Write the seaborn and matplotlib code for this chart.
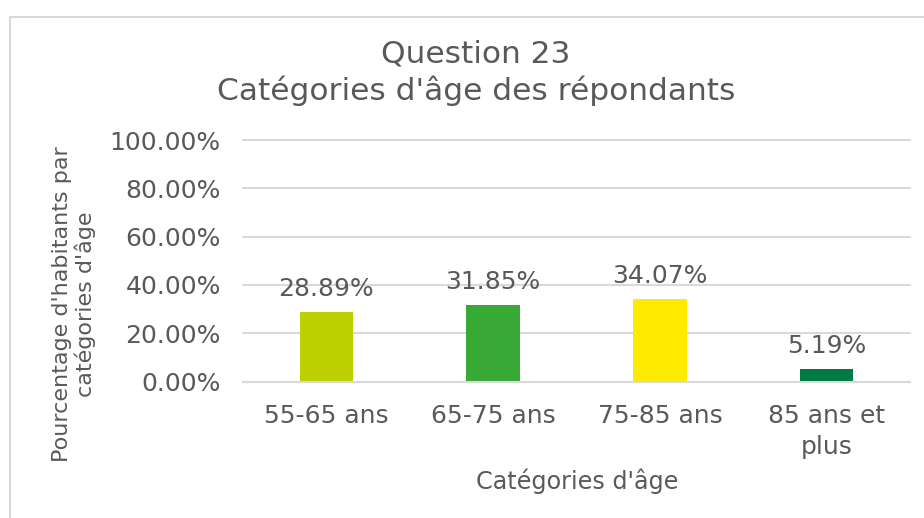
import matplotlib
matplotlib.use("Agg")
import matplotlib.pyplot as plt
import matplotlib.patches as mpatches
from matplotlib.ticker import FuncFormatter
import seaborn as sns
import pandas as pd

# Data
categories = ["55-65 ans", "65-75 ans", "75-85 ans", "85 ans et\nplus"]
values = [0.2889, 0.3185, 0.3407, 0.0519]
bar_colors = ["#BDD000", "#38A935", "#FFEB00", "#007A45"]

title = "Question 23\nCatégories d'âge des répondants"
xlabel = "Catégories d'âge"
ylabel = "Pourcentage d'habitants par\ncatégories d'âge"

text_color = "#595959"
grid_color = "#D9D9D9"
fs = 18

sns.set_style("white")
plt.rcParams["font.family"] = ["DejaVu Sans"]

df = pd.DataFrame({"cat": categories, "val": values})

fig = plt.figure(figsize=(9.24, 5.18), dpi=100)
ax = fig.add_axes([243 / 924, 1 - 381.5 / 518, (910 - 243) / 924, (381.5 - 140) / 518])

sns.barplot(data=df, x="cat", y="val", hue="cat", palette=bar_colors,
            legend=False, width=0.32, ax=ax, saturation=1, linewidth=0)

# Value labels
for i, v in enumerate(values):
    ax.text(i, v + 0.045, f"{v * 100:.2f}%", ha="center", va="bottom",
            fontsize=fs, color=text_color)

ax.set_ylim(0, 1)
ax.set_xlim(-0.5, 3.5)
ax.set_yticks([0, 0.2, 0.4, 0.6, 0.8, 1.0])
ax.yaxis.set_major_formatter(FuncFormatter(lambda y, _: f"{y * 100:.2f}%"))
ax.tick_params(axis="both", length=0, labelsize=fs, labelcolor=text_color)
ax.tick_params(axis="y", pad=16)
ax.tick_params(axis="x", pad=16)
for lab in ax.get_xticklabels():
    lab.set_linespacing(1.4)

ax.grid(axis="y", color=grid_color, linewidth=1.5)
for gl in ax.get_ygridlines():
    gl.set_clip_on(False)
ax.set_axisbelow(True)
for side in ["top", "left", "right"]:
    ax.spines[side].set_visible(False)
ax.spines["bottom"].set_color(grid_color)
ax.spines["bottom"].set_linewidth(1.5)

ax.set_xlabel("")
ax.set_ylabel("")

# Titles and axis titles
fig.text(0.515, 1 - 73 / 518, title, ha="center", va="center",
         fontsize=22.5, color=text_color, linespacing=1.3)
fig.text(577 / 924, 1 - 481 / 518, xlabel, ha="center", va="center",
         fontsize=17.2, color=text_color)
fig.text(74 / 924, 1 - 304 / 518, ylabel, ha="center", va="center",
         rotation=90, fontsize=16, color=text_color, linespacing=1.15)

# Chart frame (extends past right and bottom edges)
fig.patches.append(mpatches.Rectangle((10 / 924, -0.1), 1.2, 1 - 16.5 / 518 + 0.1,
                                      transform=fig.transFigure, fill=False,
                                      edgecolor=grid_color, linewidth=1.5))

fig.savefig("out.png", dpi=100)
